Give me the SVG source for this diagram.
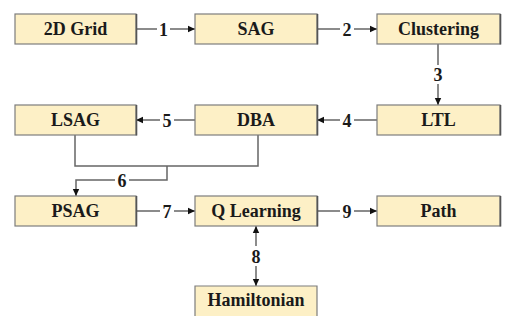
<svg xmlns="http://www.w3.org/2000/svg" width="514" height="326" viewBox="0 0 514 326">
  <style>
    .box { fill: #fdf0c6; stroke: #7d7d7d; stroke-width: 1.2; }
    .shadow { fill: none; stroke: #555; stroke-width: 1.6; }
    .lbl { font-family: "Liberation Serif", "Times New Roman", serif; font-weight: bold; font-size: 18px; fill: #1a1a1a; text-anchor: middle; }
    .num { font-family: "Liberation Serif", "Times New Roman", serif; font-weight: bold; font-size: 18px; fill: #1a1a1a; text-anchor: middle; }
    .wire { fill: none; stroke: #666; stroke-width: 1.5; }
  </style>
  <defs>
    <marker id="arrow" markerWidth="8" markerHeight="8" refX="7" refY="4" orient="auto-start-reverse" markerUnits="userSpaceOnUse">
      <path d="M0,0.8 L7,4 L0,7.2 Z" fill="#111"/>
    </marker>
  </defs>
  <rect width="514" height="326" fill="#fff"/>

  <!-- connectors -->
  <g id="connectors">
    <!-- 1: 2D Grid -> SAG -->
    <path class="wire" d="M136,29 H157 M170,29 H195" marker-end="url(#arrow)"/>
    <text class="num" x="163.5" y="35.5">1</text>
    <!-- 2: SAG -> Clustering -->
    <path class="wire" d="M317,29 H340 M354,29 H377" marker-end="url(#arrow)"/>
    <text class="num" x="347" y="35.5">2</text>
    <!-- 3: Clustering -> LTL -->
    <path class="wire" d="M438,44 V65 M438,84 V105" marker-end="url(#arrow)"/>
    <text class="num" x="438" y="81">3</text>
    <!-- 4: LTL -> DBA -->
    <path class="wire" d="M377,120 H354 M340,120 H317" marker-end="url(#arrow)"/>
    <text class="num" x="347" y="126.5">4</text>
    <!-- 5: DBA -> LSAG -->
    <path class="wire" d="M195,120 H174 M160,120 H136" marker-end="url(#arrow)"/>
    <text class="num" x="167" y="126.5">5</text>
    <!-- 6: LSAG + DBA -> PSAG -->
    <path class="wire" d="M75,135 V166 H258 V135"/>
    <path class="wire" d="M167,166 V180 H129 M115,180 H76 V196" marker-end="url(#arrow)"/>
    <text class="num" x="122" y="186.5">6</text>
    <!-- 7: PSAG -> Q Learning -->
    <path class="wire" d="M136,211 H160 M174,211 H195" marker-end="url(#arrow)"/>
    <text class="num" x="167" y="217.5">7</text>
    <!-- 9: Q Learning -> Path -->
    <path class="wire" d="M317,211 H340 M354,211 H377" marker-end="url(#arrow)"/>
    <text class="num" x="347" y="217.5">9</text>
    <!-- 8: Q Learning <-> Hamiltonian -->
    <path class="wire" d="M256,246 V226" marker-end="url(#arrow)"/>
    <path class="wire" d="M256,266 V286" marker-end="url(#arrow)"/>
    <text class="num" x="256" y="262.5">8</text>
  </g>

  <!-- nodes -->
  <g id="grid2d">
    <rect class="box" x="15" y="14" width="121" height="30"/>
    <path class="shadow" d="M136.5,14 V44.5"/>
    <text class="lbl" x="75.5" y="35">2D Grid</text>
  </g>
  <g id="sag">
    <rect class="box" x="195" y="14" width="122" height="30"/>
    <path class="shadow" d="M317.5,14 V44.5"/>
    <text class="lbl" x="256" y="35">SAG</text>
  </g>
  <g id="clustering">
    <rect class="box" x="377" y="14" width="123" height="30"/>
    <path class="shadow" d="M500.5,14 V44.5"/>
    <text class="lbl" x="438.5" y="35">Clustering</text>
  </g>
  <g id="lsag">
    <rect class="box" x="15" y="105" width="121" height="30"/>
    <path class="shadow" d="M136.5,105 V135.5"/>
    <text class="lbl" x="75.5" y="126">LSAG</text>
  </g>
  <g id="dba">
    <rect class="box" x="195" y="105" width="122" height="30"/>
    <path class="shadow" d="M317.5,105 V135.5"/>
    <text class="lbl" x="256" y="126">DBA</text>
  </g>
  <g id="ltl">
    <rect class="box" x="377" y="105" width="123" height="30"/>
    <path class="shadow" d="M500.5,105 V135.5"/>
    <text class="lbl" x="438.5" y="126">LTL</text>
  </g>
  <g id="psag">
    <rect class="box" x="15" y="196" width="121" height="30"/>
    <path class="shadow" d="M136.5,196 V226.5"/>
    <text class="lbl" x="75.5" y="217">PSAG</text>
  </g>
  <g id="qlearning">
    <rect class="box" x="195" y="196" width="122" height="30"/>
    <path class="shadow" d="M317.5,196 V226.5"/>
    <text class="lbl" x="256" y="217">Q Learning</text>
  </g>
  <g id="path">
    <rect class="box" x="377" y="196" width="123" height="30"/>
    <path class="shadow" d="M500.5,196 V226.5"/>
    <text class="lbl" x="438.5" y="217">Path</text>
  </g>
  <g id="hamiltonian">
    <rect x="195" y="286" width="122" height="30" fill="#fdf0c6"/>
    <path d="M195,316 V286 H317 V316" fill="none" stroke="#7d7d7d" stroke-width="1.2"/>
    <text class="lbl" x="256" y="306">Hamiltonian</text>
  </g>
</svg>
